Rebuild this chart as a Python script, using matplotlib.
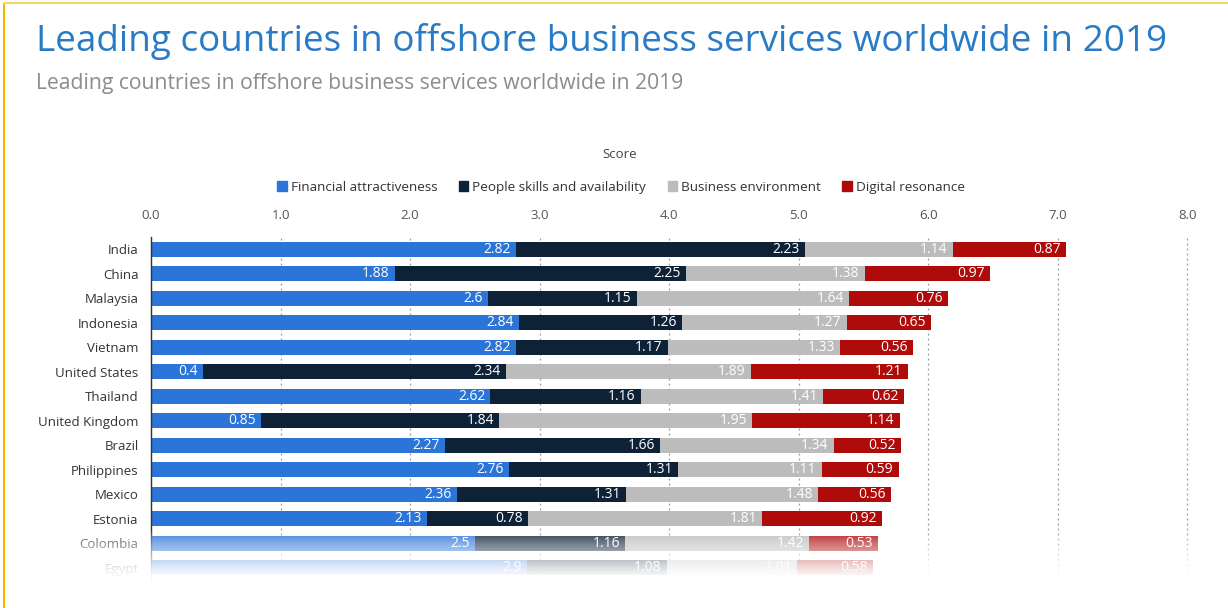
import matplotlib.pyplot as plt
import numpy as np
from matplotlib.lines import Line2D

plt.rcParams['font.family'] = ['Open Sans', 'DejaVu Sans']

countries = ['India', 'China', 'Malaysia', 'Indonesia', 'Vietnam', 'United States', 'Thailand',
             'United Kingdom', 'Brazil', 'Philippines', 'Mexico', 'Estonia', 'Colombia', 'Egypt']
financial = [2.82, 1.88, 2.6, 2.84, 2.82, 0.4, 2.62, 0.85, 2.27, 2.76, 2.36, 2.13, 2.5, 2.9]
people = [2.23, 2.25, 1.15, 1.26, 1.17, 2.34, 1.16, 1.84, 1.66, 1.31, 1.31, 0.78, 1.16, 1.08]
business = [1.14, 1.38, 1.64, 1.27, 1.33, 1.89, 1.41, 1.95, 1.34, 1.11, 1.48, 1.81, 1.42, 1.01]
digital = [0.87, 0.97, 0.76, 0.65, 0.56, 1.21, 0.62, 1.14, 0.52, 0.59, 0.56, 0.92, 0.53, 0.58]
series_names = ['Financial attractiveness', 'People skills and availability',
                'Business environment', 'Digital resonance']
x_ticks = [0.0, 1.0, 2.0, 3.0, 4.0, 5.0, 6.0, 7.0, 8.0]

colors = ['#2b74d8', '#0e2237', '#bcbcbc', '#b00b0b']

W, H = 1228, 608
fig = plt.figure(figsize=(W / 100, H / 100), dpi=100)
fig.patch.set_facecolor('white')

ax = fig.add_axes([151 / W, 1 - 580 / H, (1190 - 151) / W, (580 - 237) / H])

y = np.arange(len(countries))
left = np.zeros(len(countries))
for vals, col, name in zip([financial, people, business, digital], colors, series_names):
    vals = np.array(vals)
    ax.barh(y, vals, left=left, height=0.62, color=col, label=name, zorder=2)
    for yi, (l, v) in enumerate(zip(left, vals)):
        ax.text(l + v - 0.04, yi, f'{v:g}', ha='right', va='center',
                color='white', fontsize=10, zorder=3)
    left = left + vals

ax.set_xlim(0, 8.02)
ax.set_ylim(len(countries) - 0.5, -0.5)
ax.set_xticks(x_ticks)
ax.set_xticklabels([f'{t:.1f}' for t in x_ticks])
ax.xaxis.tick_top()
ax.tick_params(axis='x', length=0, pad=10.5, labelsize=9.5, labelcolor='#555555')
ax.set_yticks(y)
ax.set_yticklabels(countries)
ax.tick_params(axis='y', length=0, pad=9, labelsize=9.5, labelcolor='#333333')
ax.grid(axis='x', linestyle=(0, (1.5, 2.5)), color='#999999', linewidth=0.9, zorder=1)
for s in ['top', 'right', 'bottom']:
    ax.spines[s].set_visible(False)
ax.spines['left'].set_color('#333333')
ax.spines['left'].set_linewidth(1.0)
ax.set_facecolor('white')

# white fade over the last rows
fade = fig.add_axes([40 / W, 1 - 590 / H, (W - 40) / W, (590 - 530) / H])
grad = np.clip(np.linspace(0, 1.35, 100), 0, 1) ** 0.7
rgba = np.ones((100, 2, 4))
rgba[:, :, 3] = (grad * 0.96)[:, None]
fade.imshow(rgba, aspect='auto', extent=[0, 1, 1, 0], interpolation='bilinear')
fade.set_axis_off()

fig.text(36 / W, 1 - 42 / H, 'Leading countries in offshore business services worldwide in 2019',
         fontsize=26.6, color='#2a7bc6', va='center', ha='left')
fig.text(36 / W, 1 - 84 / H, 'Leading countries in offshore business services worldwide in 2019',
         fontsize=15.2, color='#8c8c8c', va='center', ha='left')
fig.text(620 / W, 1 - 155 / H, 'Score', fontsize=9.5, color='#444444', ha='center', va='center')

handles = [plt.Rectangle((0, 0), 1, 1, color=c) for c in colors]
fig.legend(handles, series_names, loc='center', bbox_to_anchor=(621 / W, 1 - 187 / H), ncol=4,
           frameon=False, fontsize=9.7, handlelength=0.7, handleheight=0.7, handletextpad=0.3,
           columnspacing=1.6, labelcolor='#333333')

# frame edge along the top and left
fig.add_artist(Line2D([4 / W, 4 / W], [0, 1 - 3 / H], color='#f5b800', linewidth=1.5))
fig.add_artist(Line2D([4 / W, 1], [1 - 3 / H, 1 - 3 / H], color='#f8d46a', linewidth=1.5))

fig.savefig('out.png', dpi=100)
